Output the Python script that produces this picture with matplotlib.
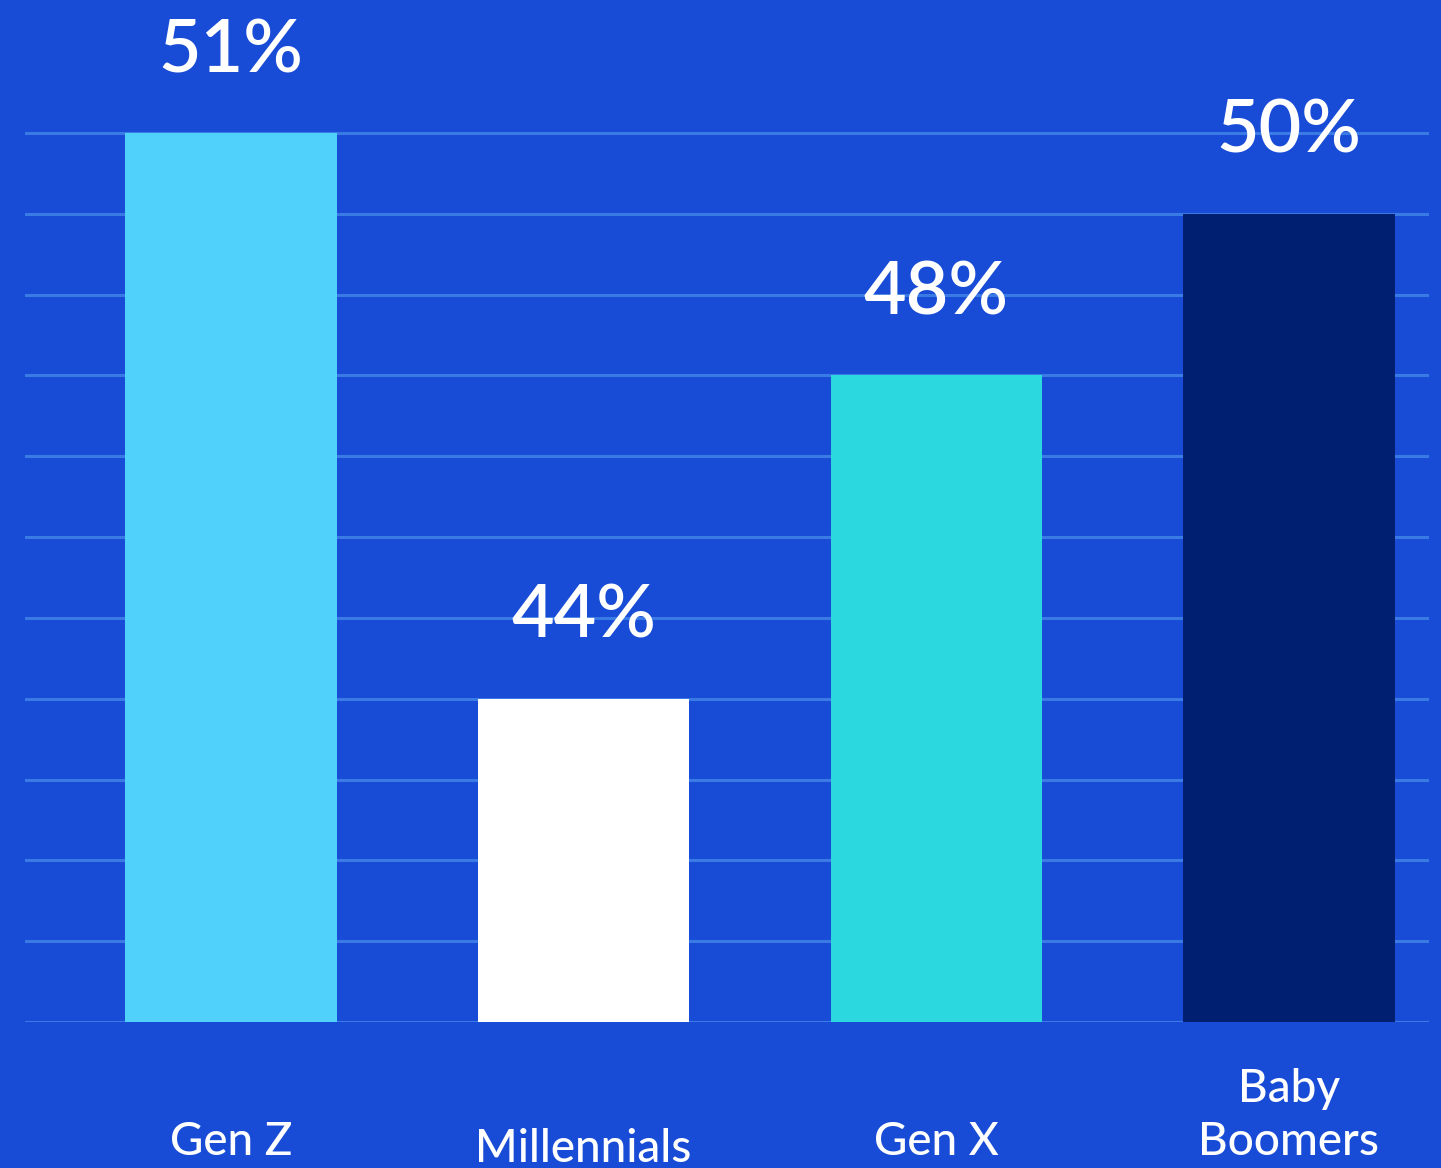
import matplotlib
matplotlib.use("Agg")
import matplotlib.pyplot as plt

# values
categories = ["Gen Z", "Millennials", "Gen X", "Baby\nBoomers"]
shares = [51, 44, 48, 50]
bar_colors = ["#4FD1FC", "#FFFFFF", "#2CD8E0", "#001F70"]
value_labels = ["51%", "44%", "48%", "50%"]

BG = "#194CD6"
GRID = "#3A7AE4"

plt.rcParams["font.family"] = ["Lato", "DejaVu Sans"]

fig = plt.figure(figsize=(14.41, 11.68), dpi=100, facecolor=BG)
ax = fig.add_axes([25 / 1441, 146 / 1168, 1404 / 1441, 1022 / 1168])
ax.set_facecolor(BG)

x = list(range(len(categories)))
ax.bar(x, shares, width=0.6, color=bar_colors, zorder=2)

ax.set_ylim(40, 52.646)
ax.set_xlim(-0.584, 3.397)
ax.set_yticks(range(40, 52))
ax.yaxis.grid(True, color=GRID, linewidth=2.2, zorder=0)
ax.set_axisbelow(True)
ax.tick_params(left=False, bottom=False, labelleft=False, labelbottom=False)
for s in ax.spines.values():
    s.set_visible(False)

for xi, v, lab in zip(x, shares, value_labels):
    ax.annotate(lab, xy=(xi, v), xytext=(0, 61), textcoords="offset pixels",
                ha="center", va="baseline", color="white", fontsize=53,
                fontweight="semibold", annotation_clip=False)

# category labels sit below the axis, Millennials a little lower
label_drop = [133, 140, 133, 133]
for xi, cat, d in zip(x, categories, label_drop):
    ax.annotate(cat, xy=(xi, 0), xycoords=("data", "axes fraction"),
                xytext=(0, -d), textcoords="offset pixels",
                ha="center", va="baseline", color="white", fontsize=33,
                fontweight="medium", linespacing=1.31, annotation_clip=False)

fig.savefig("out.png", dpi=100, facecolor=BG)
